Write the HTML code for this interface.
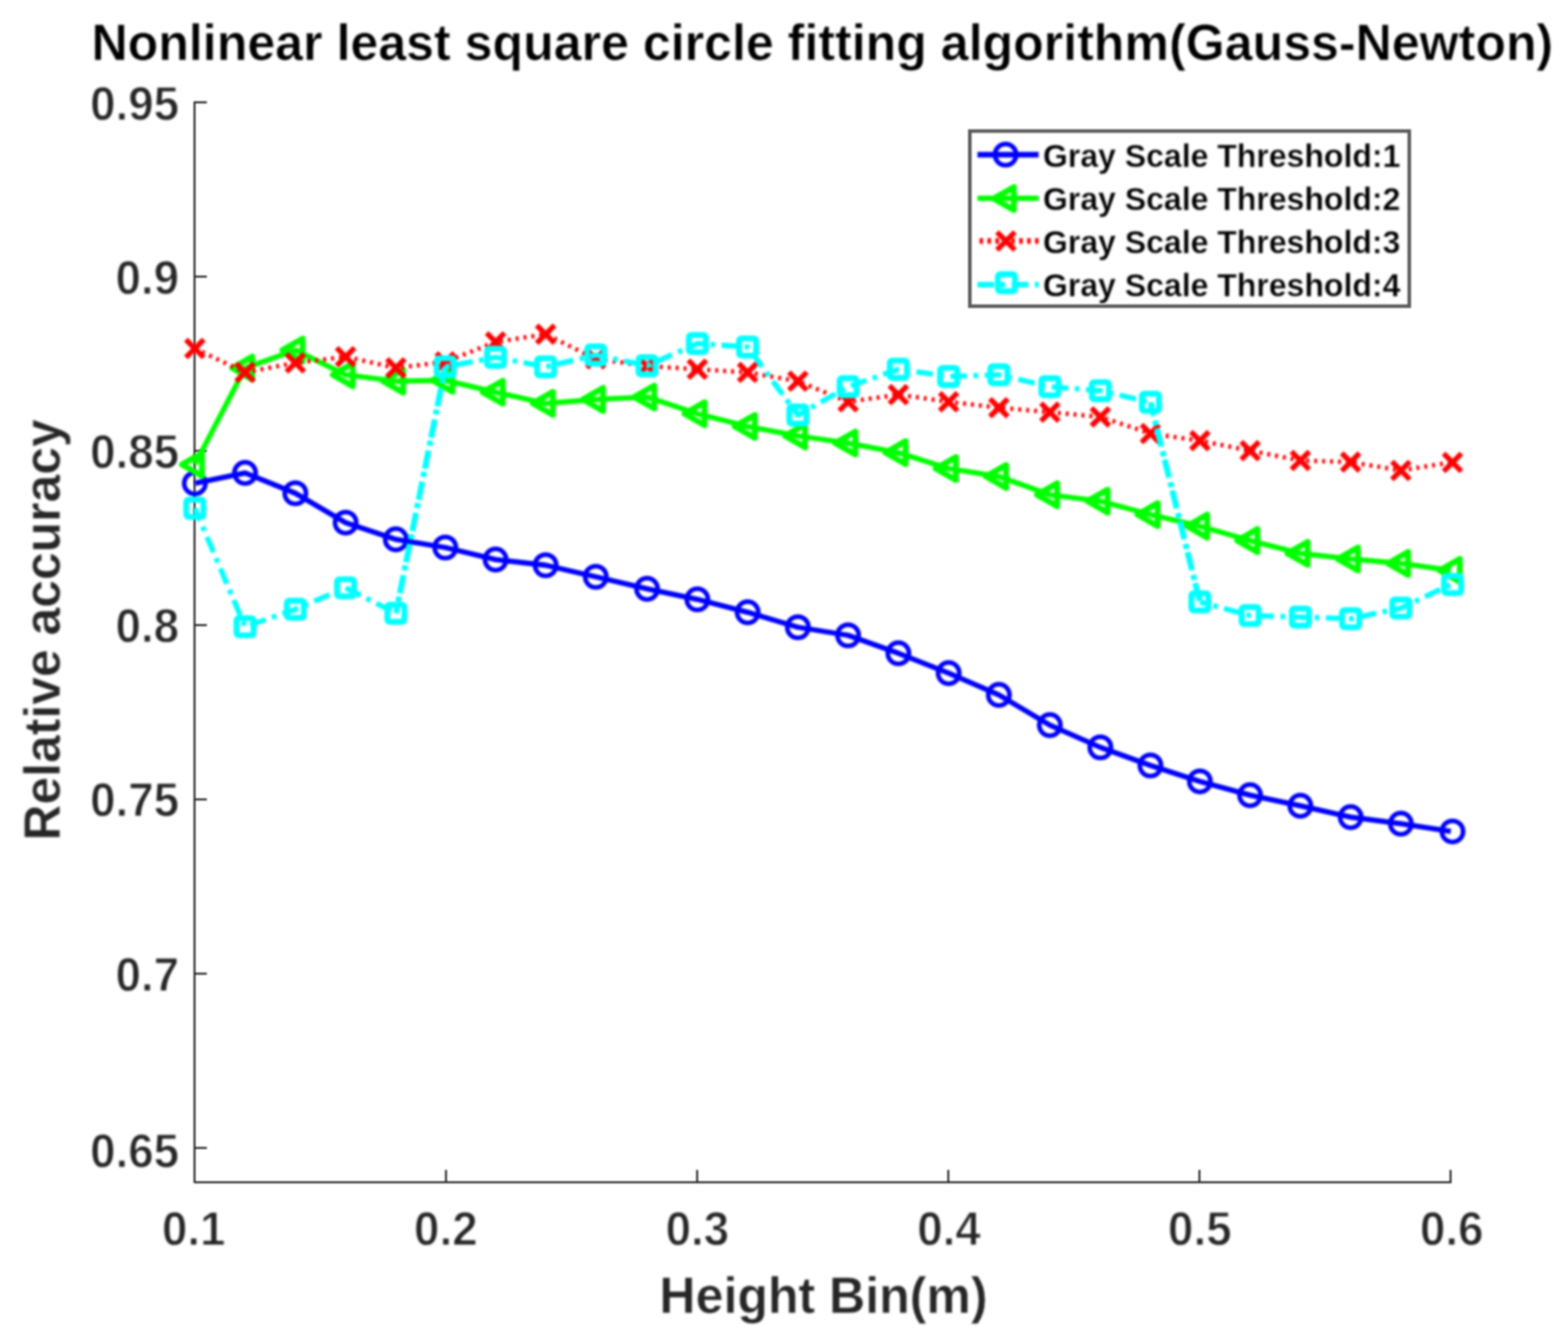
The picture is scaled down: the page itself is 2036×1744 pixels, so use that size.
<!DOCTYPE html>
<html lang="en">
<head>
<meta charset="utf-8">
<title>Nonlinear least square circle fitting algorithm(Gauss-Newton)</title>
<style>
html,body{margin:0;padding:0;background:#fff;}
body{width:2036px;height:1744px;overflow:hidden;}
svg{display:block;}
text{font-family:"Liberation Sans",Arial,Helvetica,sans-serif;font-weight:bold;}
.tick{font-size:63.5px;fill:#262626;stroke:#ffffff;stroke-width:1.3px;stroke-linejoin:round;}
.lab{font-size:66.3px;fill:#262626;stroke:#ffffff;stroke-width:0.6px;stroke-linejoin:round;}
.ttl{font-size:67.3px;fill:#000;stroke:#ffffff;stroke-width:0.7px;stroke-linejoin:round;}
.leg{font-size:42px;fill:#000;stroke:#ffffff;stroke-width:0.4px;stroke-linejoin:round;}
</style>
</head>
<body>
<svg xmlns="http://www.w3.org/2000/svg" width="2036" height="1744" viewBox="0 0 2036 1744">
<defs>
<filter id="fd" filterUnits="userSpaceOnUse" x="0" y="0" width="2036" height="1744" color-interpolation-filters="sRGB"><feGaussianBlur stdDeviation="1.8"/></filter>
<filter id="fa" filterUnits="userSpaceOnUse" x="0" y="0" width="2036" height="1744" color-interpolation-filters="sRGB"><feGaussianBlur stdDeviation="1.15"/></filter>
<filter id="ft" filterUnits="userSpaceOnUse" x="0" y="0" width="2036" height="1744" color-interpolation-filters="sRGB"><feGaussianBlur stdDeviation="1.7"/></filter>
</defs>
<rect width="2036" height="1744" fill="#ffffff"/>

<g filter="url(#ft)">
<text class="ttl" x="1067.8" y="78.3" text-anchor="middle" textLength="1898" lengthAdjust="spacingAndGlyphs">Nonlinear least square circle fitting algorithm(Gauss-Newton)</text>
</g>
<g filter="url(#fa)" stroke="#262626" stroke-width="2.5" fill="none" stroke-linecap="butt">
<path d="M252.6,131.70000000000002 L252.6,1535.2 L1884.7,1535.2" stroke-linejoin="round"/>
<path d="M252.6,132.9 h16"/>
<path d="M252.6,359.2 h16"/>
<path d="M252.6,585.5 h16"/>
<path d="M252.6,811.8 h16"/>
<path d="M252.6,1038.1 h16"/>
<path d="M252.6,1264.4 h16"/>
<path d="M252.6,1490.7 h16"/>
<path d="M579.1,1535.2 v-16"/>
<path d="M905.2,1535.2 v-16"/>
<path d="M1231.3,1535.2 v-16"/>
<path d="M1557.4,1535.2 v-16"/>
<path d="M1883.5,1535.2 v-16"/>
</g>
<g filter="url(#fd)">
<g><polyline points="253.0,627.7 318.2,614.1 383.5,640.5 448.8,678.7 514.0,700.4 578.2,711.0 643.5,726.6 708.5,734.0 773.6,749.0 840.2,764.6 905.5,778.3 970.8,795.1 1036.0,814.5 1101.2,825.0 1166.5,848.3 1231.8,874.1 1297.0,902.4 1363.2,941.6 1428.8,970.5 1493.8,994.0 1558.0,1014.7 1623.2,1032.6 1688.5,1046.4 1753.8,1061.1 1819.0,1069.6 1883.8,1079.7" fill="none" stroke="#0000ff" stroke-width="6.8" stroke-linejoin="round"/>
<circle cx="253.0" cy="627.7" r="13.8" fill="none" stroke="#0000ff" stroke-width="6.0"/>
<circle cx="318.2" cy="614.1" r="13.8" fill="none" stroke="#0000ff" stroke-width="6.0"/>
<circle cx="383.5" cy="640.5" r="13.8" fill="none" stroke="#0000ff" stroke-width="6.0"/>
<circle cx="448.8" cy="678.7" r="13.8" fill="none" stroke="#0000ff" stroke-width="6.0"/>
<circle cx="514.0" cy="700.4" r="13.8" fill="none" stroke="#0000ff" stroke-width="6.0"/>
<circle cx="578.2" cy="711.0" r="13.8" fill="none" stroke="#0000ff" stroke-width="6.0"/>
<circle cx="643.5" cy="726.6" r="13.8" fill="none" stroke="#0000ff" stroke-width="6.0"/>
<circle cx="708.5" cy="734.0" r="13.8" fill="none" stroke="#0000ff" stroke-width="6.0"/>
<circle cx="773.6" cy="749.0" r="13.8" fill="none" stroke="#0000ff" stroke-width="6.0"/>
<circle cx="840.2" cy="764.6" r="13.8" fill="none" stroke="#0000ff" stroke-width="6.0"/>
<circle cx="905.5" cy="778.3" r="13.8" fill="none" stroke="#0000ff" stroke-width="6.0"/>
<circle cx="970.8" cy="795.1" r="13.8" fill="none" stroke="#0000ff" stroke-width="6.0"/>
<circle cx="1036.0" cy="814.5" r="13.8" fill="none" stroke="#0000ff" stroke-width="6.0"/>
<circle cx="1101.2" cy="825.0" r="13.8" fill="none" stroke="#0000ff" stroke-width="6.0"/>
<circle cx="1166.5" cy="848.3" r="13.8" fill="none" stroke="#0000ff" stroke-width="6.0"/>
<circle cx="1231.8" cy="874.1" r="13.8" fill="none" stroke="#0000ff" stroke-width="6.0"/>
<circle cx="1297.0" cy="902.4" r="13.8" fill="none" stroke="#0000ff" stroke-width="6.0"/>
<circle cx="1363.2" cy="941.6" r="13.8" fill="none" stroke="#0000ff" stroke-width="6.0"/>
<circle cx="1428.8" cy="970.5" r="13.8" fill="none" stroke="#0000ff" stroke-width="6.0"/>
<circle cx="1493.8" cy="994.0" r="13.8" fill="none" stroke="#0000ff" stroke-width="6.0"/>
<circle cx="1558.0" cy="1014.7" r="13.8" fill="none" stroke="#0000ff" stroke-width="6.0"/>
<circle cx="1623.2" cy="1032.6" r="13.8" fill="none" stroke="#0000ff" stroke-width="6.0"/>
<circle cx="1688.5" cy="1046.4" r="13.8" fill="none" stroke="#0000ff" stroke-width="6.0"/>
<circle cx="1753.8" cy="1061.1" r="13.8" fill="none" stroke="#0000ff" stroke-width="6.0"/>
<circle cx="1819.0" cy="1069.6" r="13.8" fill="none" stroke="#0000ff" stroke-width="6.0"/>
<circle cx="1886.0" cy="1079.7" r="13.8" fill="none" stroke="#0000ff" stroke-width="6.0"/>
</g>
<g><polyline points="253.0,603.3 318.2,478.0 383.5,454.6 448.8,486.7 514.0,495.0 578.2,493.9 643.5,509.4 708.5,523.8 773.6,518.7 840.2,515.6 905.5,537.3 970.8,553.8 1036.0,566.0 1101.2,575.4 1166.5,587.8 1231.8,608.5 1297.0,618.8 1363.2,642.5 1428.8,650.8 1493.8,668.3 1558.0,683.2 1623.2,702.0 1688.5,718.6 1753.8,725.9 1819.0,731.7 1883.8,740.7" fill="none" stroke="#00ff00" stroke-width="6.8" stroke-linejoin="round"/>
<path d="M236.3,603.3 L262.4,588.4 L262.4,618.2 Z" fill="none" stroke="#00ff00" stroke-width="7.6" stroke-linejoin="round"/>
<path d="M301.6,478.0 L327.6,463.1 L327.6,492.9 Z" fill="none" stroke="#00ff00" stroke-width="7.6" stroke-linejoin="round"/>
<path d="M366.8,454.6 L392.9,439.7 L392.9,469.5 Z" fill="none" stroke="#00ff00" stroke-width="7.6" stroke-linejoin="round"/>
<path d="M432.1,486.7 L458.1,471.8 L458.1,501.6 Z" fill="none" stroke="#00ff00" stroke-width="7.6" stroke-linejoin="round"/>
<path d="M497.3,495.0 L523.4,480.1 L523.4,509.9 Z" fill="none" stroke="#00ff00" stroke-width="7.6" stroke-linejoin="round"/>
<path d="M561.5,493.9 L587.6,479.0 L587.6,508.8 Z" fill="none" stroke="#00ff00" stroke-width="7.6" stroke-linejoin="round"/>
<path d="M626.8,509.4 L652.9,494.5 L652.9,524.3 Z" fill="none" stroke="#00ff00" stroke-width="7.6" stroke-linejoin="round"/>
<path d="M691.8,523.8 L717.9,508.9 L717.9,538.7 Z" fill="none" stroke="#00ff00" stroke-width="7.6" stroke-linejoin="round"/>
<path d="M756.9,518.7 L783.0,503.8 L783.0,533.6 Z" fill="none" stroke="#00ff00" stroke-width="7.6" stroke-linejoin="round"/>
<path d="M823.5,515.6 L849.6,500.7 L849.6,530.5 Z" fill="none" stroke="#00ff00" stroke-width="7.6" stroke-linejoin="round"/>
<path d="M888.8,537.3 L914.9,522.4 L914.9,552.2 Z" fill="none" stroke="#00ff00" stroke-width="7.6" stroke-linejoin="round"/>
<path d="M954.0,553.8 L980.1,538.9 L980.1,568.7 Z" fill="none" stroke="#00ff00" stroke-width="7.6" stroke-linejoin="round"/>
<path d="M1019.3,566.0 L1045.4,551.1 L1045.4,580.9 Z" fill="none" stroke="#00ff00" stroke-width="7.6" stroke-linejoin="round"/>
<path d="M1084.5,575.4 L1110.7,560.5 L1110.7,590.3 Z" fill="none" stroke="#00ff00" stroke-width="7.6" stroke-linejoin="round"/>
<path d="M1149.8,587.8 L1175.9,572.9 L1175.9,602.7 Z" fill="none" stroke="#00ff00" stroke-width="7.6" stroke-linejoin="round"/>
<path d="M1215.0,608.5 L1241.2,593.6 L1241.2,623.4 Z" fill="none" stroke="#00ff00" stroke-width="7.6" stroke-linejoin="round"/>
<path d="M1280.3,618.8 L1306.4,603.9 L1306.4,633.7 Z" fill="none" stroke="#00ff00" stroke-width="7.6" stroke-linejoin="round"/>
<path d="M1346.5,642.5 L1372.7,627.6 L1372.7,657.4 Z" fill="none" stroke="#00ff00" stroke-width="7.6" stroke-linejoin="round"/>
<path d="M1412.1,650.8 L1438.2,635.9 L1438.2,665.7 Z" fill="none" stroke="#00ff00" stroke-width="7.6" stroke-linejoin="round"/>
<path d="M1477.0,668.3 L1503.2,653.4 L1503.2,683.2 Z" fill="none" stroke="#00ff00" stroke-width="7.6" stroke-linejoin="round"/>
<path d="M1541.3,683.2 L1567.4,668.3 L1567.4,698.1 Z" fill="none" stroke="#00ff00" stroke-width="7.6" stroke-linejoin="round"/>
<path d="M1606.5,702.0 L1632.7,687.1 L1632.7,716.9 Z" fill="none" stroke="#00ff00" stroke-width="7.6" stroke-linejoin="round"/>
<path d="M1671.8,718.6 L1697.9,703.7 L1697.9,733.5 Z" fill="none" stroke="#00ff00" stroke-width="7.6" stroke-linejoin="round"/>
<path d="M1737.0,725.9 L1763.2,711.0 L1763.2,740.8 Z" fill="none" stroke="#00ff00" stroke-width="7.6" stroke-linejoin="round"/>
<path d="M1802.3,731.7 L1828.4,716.8 L1828.4,746.6 Z" fill="none" stroke="#00ff00" stroke-width="7.6" stroke-linejoin="round"/>
<path d="M1869.3,740.7 L1895.5,725.8 L1895.5,755.6 Z" fill="none" stroke="#00ff00" stroke-width="7.6" stroke-linejoin="round"/>
</g>
<g><polyline points="253.0,452.6 318.2,483.6 383.5,471.2 448.8,463.3 514.0,477.8 578.2,470.0 643.5,444.0 708.5,434.1 773.6,466.0 840.2,475.3 905.5,479.5 970.8,483.6 1036.0,495.0 1101.2,521.8 1166.5,512.5 1231.8,521.7 1297.0,529.4 1363.2,535.2 1428.8,541.4 1493.8,563.0 1558.0,572.3 1623.2,585.2 1688.5,598.0 1753.8,600.1 1819.0,611.0 1883.8,600.5" fill="none" stroke="#ff0000" stroke-width="5.8" stroke-linejoin="round" stroke-dasharray="3.8 6.5"/>
<path d="M241.4,441.0 L264.6,464.2 M241.4,464.2 L264.6,441.0" fill="none" stroke="#ff0000" stroke-width="6.8"/>
<path d="M306.6,472.0 L329.9,495.2 M306.6,495.2 L329.9,472.0" fill="none" stroke="#ff0000" stroke-width="6.8"/>
<path d="M371.9,459.6 L395.1,482.8 M371.9,482.8 L395.1,459.6" fill="none" stroke="#ff0000" stroke-width="6.8"/>
<path d="M437.1,451.7 L460.4,474.9 M437.1,474.9 L460.4,451.7" fill="none" stroke="#ff0000" stroke-width="6.8"/>
<path d="M502.4,466.2 L525.6,489.4 M502.4,489.4 L525.6,466.2" fill="none" stroke="#ff0000" stroke-width="6.8"/>
<path d="M566.6,458.4 L589.9,481.6 M566.6,481.6 L589.9,458.4" fill="none" stroke="#ff0000" stroke-width="6.8"/>
<path d="M631.9,432.4 L655.1,455.6 M631.9,455.6 L655.1,432.4" fill="none" stroke="#ff0000" stroke-width="6.8"/>
<path d="M696.9,422.5 L720.1,445.7 M696.9,445.7 L720.1,422.5" fill="none" stroke="#ff0000" stroke-width="6.8"/>
<path d="M762.0,454.4 L785.2,477.6 M762.0,477.6 L785.2,454.4" fill="none" stroke="#ff0000" stroke-width="6.8"/>
<path d="M828.6,463.7 L851.9,486.9 M828.6,486.9 L851.9,463.7" fill="none" stroke="#ff0000" stroke-width="6.8"/>
<path d="M893.9,467.9 L917.1,491.1 M893.9,491.1 L917.1,467.9" fill="none" stroke="#ff0000" stroke-width="6.8"/>
<path d="M959.1,472.0 L982.4,495.2 M959.1,495.2 L982.4,472.0" fill="none" stroke="#ff0000" stroke-width="6.8"/>
<path d="M1024.4,483.4 L1047.6,506.6 M1024.4,506.6 L1047.6,483.4" fill="none" stroke="#ff0000" stroke-width="6.8"/>
<path d="M1089.7,510.2 L1112.8,533.4 M1089.7,533.4 L1112.8,510.2" fill="none" stroke="#ff0000" stroke-width="6.8"/>
<path d="M1154.9,500.9 L1178.1,524.1 M1154.9,524.1 L1178.1,500.9" fill="none" stroke="#ff0000" stroke-width="6.8"/>
<path d="M1220.2,510.1 L1243.3,533.3 M1220.2,533.3 L1243.3,510.1" fill="none" stroke="#ff0000" stroke-width="6.8"/>
<path d="M1285.4,517.8 L1308.6,541.0 M1285.4,541.0 L1308.6,517.8" fill="none" stroke="#ff0000" stroke-width="6.8"/>
<path d="M1351.7,523.6 L1374.8,546.8 M1351.7,546.8 L1374.8,523.6" fill="none" stroke="#ff0000" stroke-width="6.8"/>
<path d="M1417.2,529.8 L1440.4,553.0 M1417.2,553.0 L1440.4,529.8" fill="none" stroke="#ff0000" stroke-width="6.8"/>
<path d="M1482.2,551.4 L1505.3,574.6 M1482.2,574.6 L1505.3,551.4" fill="none" stroke="#ff0000" stroke-width="6.8"/>
<path d="M1546.4,560.7 L1569.6,583.9 M1546.4,583.9 L1569.6,560.7" fill="none" stroke="#ff0000" stroke-width="6.8"/>
<path d="M1611.7,573.6 L1634.8,596.8 M1611.7,596.8 L1634.8,573.6" fill="none" stroke="#ff0000" stroke-width="6.8"/>
<path d="M1676.9,586.4 L1700.1,609.6 M1676.9,609.6 L1700.1,586.4" fill="none" stroke="#ff0000" stroke-width="6.8"/>
<path d="M1742.2,588.5 L1765.3,611.7 M1742.2,611.7 L1765.3,588.5" fill="none" stroke="#ff0000" stroke-width="6.8"/>
<path d="M1807.4,599.4 L1830.6,622.6 M1807.4,622.6 L1830.6,599.4" fill="none" stroke="#ff0000" stroke-width="6.8"/>
<path d="M1874.5,588.9 L1897.6,612.1 M1874.5,612.1 L1897.6,588.9" fill="none" stroke="#ff0000" stroke-width="6.8"/>
</g>
<g><polyline points="253.0,660.0 318.2,813.9 383.5,791.2 448.8,763.3 514.0,796.3" fill="none" stroke="#00ffff" stroke-width="6.8" stroke-linejoin="round" stroke-dasharray="21.5 8.5 6 8.5" stroke-dashoffset="4"/>
<polyline points="514.0,796.3 578.2,476.4" fill="none" stroke="#00ffff" stroke-width="7.5" stroke-linejoin="round" stroke-dasharray="24 6.4 6.6 4.3" stroke-dashoffset="15.1"/>
<polyline points="578.2,476.4 643.5,464.0 708.5,476.4 773.6,461.0 840.2,475.0 905.5,446.1 970.8,450.6 1036.0,539.0 1101.2,502.2 1166.5,479.5 1231.8,488.8 1297.0,486.7 1363.2,502.2 1428.8,507.3 1493.8,522.4" fill="none" stroke="#00ffff" stroke-width="6.8" stroke-linejoin="round" stroke-dasharray="21.5 8.5 6 8.5" stroke-dashoffset="30"/>
<polyline points="1493.8,522.4 1558.0,781.7" fill="none" stroke="#00ffff" stroke-width="7.5" stroke-linejoin="round" stroke-dasharray="24 6.4 6.6 4.3" stroke-dashoffset="6"/>
<polyline points="1558.0,781.7 1623.2,799.3 1688.5,801.3 1753.8,803.4 1819.0,789.7 1883.8,759.0" fill="none" stroke="#00ffff" stroke-width="6.8" stroke-linejoin="round" stroke-dasharray="21.5 8.5 6 8.5" stroke-dashoffset="12"/>
<rect x="241.9" y="648.9" width="22.2" height="22.2" rx="3" fill="none" stroke="#00ffff" stroke-width="7.6" stroke-linejoin="round"/>
<rect x="307.1" y="802.8" width="22.2" height="22.2" rx="3" fill="none" stroke="#00ffff" stroke-width="7.6" stroke-linejoin="round"/>
<rect x="372.4" y="780.1" width="22.2" height="22.2" rx="3" fill="none" stroke="#00ffff" stroke-width="7.6" stroke-linejoin="round"/>
<rect x="437.6" y="752.2" width="22.2" height="22.2" rx="3" fill="none" stroke="#00ffff" stroke-width="7.6" stroke-linejoin="round"/>
<rect x="502.9" y="785.2" width="22.2" height="22.2" rx="3" fill="none" stroke="#00ffff" stroke-width="7.6" stroke-linejoin="round"/>
<rect x="567.1" y="465.3" width="22.2" height="22.2" rx="3" fill="none" stroke="#00ffff" stroke-width="7.6" stroke-linejoin="round"/>
<rect x="632.4" y="452.9" width="22.2" height="22.2" rx="3" fill="none" stroke="#00ffff" stroke-width="7.6" stroke-linejoin="round"/>
<rect x="697.4" y="465.3" width="22.2" height="22.2" rx="3" fill="none" stroke="#00ffff" stroke-width="7.6" stroke-linejoin="round"/>
<rect x="762.5" y="449.9" width="22.2" height="22.2" rx="3" fill="none" stroke="#00ffff" stroke-width="7.6" stroke-linejoin="round"/>
<rect x="829.1" y="463.9" width="22.2" height="22.2" rx="3" fill="none" stroke="#00ffff" stroke-width="7.6" stroke-linejoin="round"/>
<rect x="894.4" y="435.0" width="22.2" height="22.2" rx="3" fill="none" stroke="#00ffff" stroke-width="7.6" stroke-linejoin="round"/>
<rect x="959.6" y="439.5" width="22.2" height="22.2" rx="3" fill="none" stroke="#00ffff" stroke-width="7.6" stroke-linejoin="round"/>
<rect x="1024.9" y="527.9" width="22.2" height="22.2" rx="3" fill="none" stroke="#00ffff" stroke-width="7.6" stroke-linejoin="round"/>
<rect x="1090.2" y="491.1" width="22.2" height="22.2" rx="3" fill="none" stroke="#00ffff" stroke-width="7.6" stroke-linejoin="round"/>
<rect x="1155.4" y="468.4" width="22.2" height="22.2" rx="3" fill="none" stroke="#00ffff" stroke-width="7.6" stroke-linejoin="round"/>
<rect x="1220.7" y="477.7" width="22.2" height="22.2" rx="3" fill="none" stroke="#00ffff" stroke-width="7.6" stroke-linejoin="round"/>
<rect x="1285.9" y="475.6" width="22.2" height="22.2" rx="3" fill="none" stroke="#00ffff" stroke-width="7.6" stroke-linejoin="round"/>
<rect x="1352.2" y="491.1" width="22.2" height="22.2" rx="3" fill="none" stroke="#00ffff" stroke-width="7.6" stroke-linejoin="round"/>
<rect x="1417.7" y="496.2" width="22.2" height="22.2" rx="3" fill="none" stroke="#00ffff" stroke-width="7.6" stroke-linejoin="round"/>
<rect x="1482.7" y="511.3" width="22.2" height="22.2" rx="3" fill="none" stroke="#00ffff" stroke-width="7.6" stroke-linejoin="round"/>
<rect x="1546.9" y="770.6" width="22.2" height="22.2" rx="3" fill="none" stroke="#00ffff" stroke-width="7.6" stroke-linejoin="round"/>
<rect x="1612.2" y="788.2" width="22.2" height="22.2" rx="3" fill="none" stroke="#00ffff" stroke-width="7.6" stroke-linejoin="round"/>
<rect x="1677.4" y="790.2" width="22.2" height="22.2" rx="3" fill="none" stroke="#00ffff" stroke-width="7.6" stroke-linejoin="round"/>
<rect x="1742.7" y="792.3" width="22.2" height="22.2" rx="3" fill="none" stroke="#00ffff" stroke-width="7.6" stroke-linejoin="round"/>
<rect x="1807.9" y="778.6" width="22.2" height="22.2" rx="3" fill="none" stroke="#00ffff" stroke-width="7.6" stroke-linejoin="round"/>
<rect x="1875.0" y="747.9" width="22.2" height="22.2" rx="3" fill="none" stroke="#00ffff" stroke-width="7.6" stroke-linejoin="round"/>
</g>
</g>
<g filter="url(#ft)">
<text class="tick" x="232.5" y="155.5" text-anchor="end" textLength="115.6" lengthAdjust="spacingAndGlyphs">0.95</text>
<text class="tick" x="232.5" y="381.8" text-anchor="end" textLength="82.6" lengthAdjust="spacingAndGlyphs">0.9</text>
<text class="tick" x="232.5" y="607.7" text-anchor="end" textLength="115.6" lengthAdjust="spacingAndGlyphs">0.85</text>
<text class="tick" x="232.5" y="834.0" text-anchor="end" textLength="82.6" lengthAdjust="spacingAndGlyphs">0.8</text>
<text class="tick" x="232.5" y="1060.3" text-anchor="end" textLength="115.6" lengthAdjust="spacingAndGlyphs">0.75</text>
<text class="tick" x="232.5" y="1286.6" text-anchor="end" textLength="82.6" lengthAdjust="spacingAndGlyphs">0.7</text>
<text class="tick" x="232.5" y="1515.5" text-anchor="end" textLength="115.6" lengthAdjust="spacingAndGlyphs">0.65</text>
<text class="tick" x="251.5" y="1616.5" text-anchor="middle" textLength="82.6" lengthAdjust="spacingAndGlyphs">0.1</text>
<text class="tick" x="578.9" y="1616.5" text-anchor="middle" textLength="82.6" lengthAdjust="spacingAndGlyphs">0.2</text>
<text class="tick" x="905.5" y="1616.5" text-anchor="middle" textLength="82.6" lengthAdjust="spacingAndGlyphs">0.3</text>
<text class="tick" x="1232.2" y="1616.5" text-anchor="middle" textLength="82.6" lengthAdjust="spacingAndGlyphs">0.4</text>
<text class="tick" x="1557.9" y="1616.5" text-anchor="middle" textLength="82.6" lengthAdjust="spacingAndGlyphs">0.5</text>
<text class="tick" x="1885.0" y="1616.5" text-anchor="middle" textLength="82.6" lengthAdjust="spacingAndGlyphs">0.6</text>
<text class="lab" x="1069.3" y="1704.6" text-anchor="middle" textLength="426" lengthAdjust="spacingAndGlyphs">Height Bin(m)</text>
<text class="lab" transform="translate(77.7,818) rotate(-90)" text-anchor="middle" textLength="547" lengthAdjust="spacingAndGlyphs">Relative accuracy</text>
</g>
<g filter="url(#fa)"><rect x="1259.3" y="170.2" width="570.6000000000001" height="227.40000000000003" fill="#ffffff" stroke="#5a5a5a" stroke-width="4.6"/></g>
<g filter="url(#fd)">
<path d="M1269.2,200.79999999999998 L1348.6,200.79999999999998" stroke="#0000ff" stroke-width="7.2" fill="none"/>
<circle cx="1305.7" cy="200.8" r="13.8" fill="none" stroke="#0000ff" stroke-width="6.0"/>
<path d="M1269.2,257.5 L1348.6,257.5" stroke="#00ff00" stroke-width="7.2" fill="none"/>
<path d="M1290.3,257.9 L1316.4,243.0 L1316.4,272.8 Z" fill="none" stroke="#00ff00" stroke-width="7.6" stroke-linejoin="round"/>
<path d="M1269.2,312.8 L1348.6,312.8" stroke="#ff0000" stroke-width="7.2" fill="none" stroke-dasharray="4.6 5.7" stroke-dashoffset="7.6"/>
<path d="M1294.6,301.4 L1317.8,324.6 M1294.6,324.6 L1317.8,301.4" fill="none" stroke="#ff0000" stroke-width="6.8"/>
<path d="M1269.2,369.6 L1348.6,369.6" stroke="#00ffff" stroke-width="7.2" fill="none" stroke-dasharray="21.5 8.5 6 8.5"/>
<rect x="1295.7" y="356.1" width="22.2" height="22.2" rx="3" fill="none" stroke="#00ffff" stroke-width="7.6" stroke-linejoin="round"/>
</g>
<g filter="url(#ft)">
<text class="leg" x="1354.3" y="216.7" textLength="464" lengthAdjust="spacingAndGlyphs">Gray Scale Threshold:1</text>
<text class="leg" x="1354.3" y="273.4" textLength="464" lengthAdjust="spacingAndGlyphs">Gray Scale Threshold:2</text>
<text class="leg" x="1354.3" y="328.5" textLength="464" lengthAdjust="spacingAndGlyphs">Gray Scale Threshold:3</text>
<text class="leg" x="1354.3" y="384.9" textLength="464" lengthAdjust="spacingAndGlyphs">Gray Scale Threshold:4</text>
</g>
</svg>
</body>
</html>
